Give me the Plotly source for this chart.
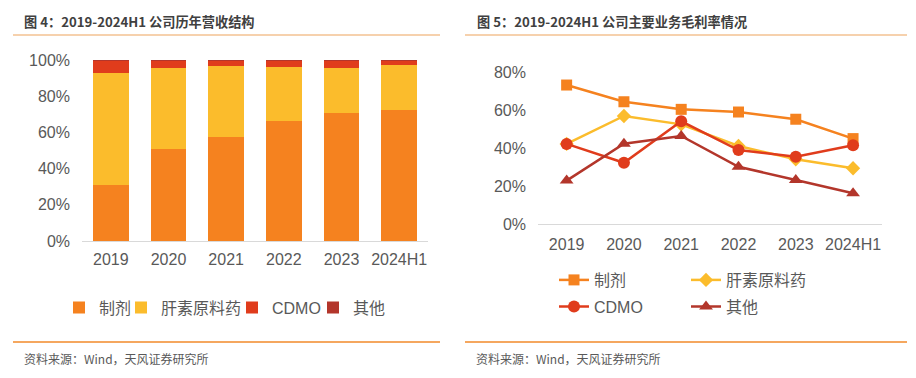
import plotly.graph_objects as go

W, H = 916, 378
OX, OY = 8, 8  # page body margin compensation

years = ["2019", "2020", "2021", "2022", "2023", "2024H1"]

# 图4：营收结构 (%)
rev_prep = [31.0, 50.7, 57.6, 66.1, 70.7, 72.2]
rev_heparin = [61.6, 44.7, 39.1, 30.2, 25.1, 24.9]
rev_cdmo = [7.1, 4.3, 3.0, 3.4, 3.9, 2.6]
rev_other = [0.3, 0.3, 0.3, 0.3, 0.3, 0.3]

# 图5：毛利率 (%)
gm_prep = [73.3, 64.5, 60.5, 59.1, 55.3, 45.1]
gm_heparin = [42.3, 57.0, 52.6, 41.2, 34.2, 29.5]
gm_cdmo = [42.3, 32.4, 54.2, 39.1, 35.6, 41.6]
gm_other = [23.0, 42.4, 46.5, 30.3, 23.3, 16.3]

names = ["制剂", "肝素原料药", "CDMO", "其他"]
colors = ["#F5821F", "#FBBC2C", "#E03C1C", "#B3362B"]

FONT = "Liberation Sans, Arial, Noto Sans CJK SC, sans-serif"
CJK = "Noto Sans CJK SC, Liberation Sans, sans-serif"
TXT = "#595959"


def px(x):
    return (x - OX) / W


def py(y):
    return 1 - (y - OY) / H


fig = go.Figure()

bar_legs = ["legend", "legend2", "legend3", "legend4"]
for vals, name, col, lg in zip([rev_prep, rev_heparin, rev_cdmo, rev_other], names, colors, bar_legs):
    fig.add_trace(go.Bar(x=years, y=vals, name=name, marker=dict(color=col, line=dict(width=0)),
                         xaxis="x", yaxis="y", legend=lg))

markers = ["square", "diamond", "circle", "triangle-up"]
msizes = [11, 11, 12, 12]
line_legs = ["legend5", "legend6", "legend7", "legend8"]
for vals, name, col, m, ms, lg in zip([gm_prep, gm_heparin, gm_cdmo, gm_other], names, colors, markers, msizes, line_legs):
    fig.add_trace(go.Scatter(x=years, y=vals, name=name, mode="lines+markers",
                             line=dict(color=col, width=2.5),
                             marker=dict(symbol=m, size=ms, color=col),
                             xaxis="x2", yaxis="y2", legend=lg, cliponaxis=False))

axis_font = dict(family=FONT, size=16, color=TXT)

common_x = dict(type="category", range=[-0.5, 5.5], showline=True, linecolor="#D9D9D9", linewidth=1,
                ticks="", showgrid=False, zeroline=False, tickfont=axis_font, automargin=False)
common_y = dict(dtick=20, ticksuffix="%", showgrid=False, zeroline=False, showline=False, ticks="",
                tickfont=axis_font, automargin=False, ticklabelstandoff=11)

layout = dict(
    template="none",
    width=W, height=H,
    margin=dict(l=0, r=0, t=0, b=0, pad=0),
    paper_bgcolor="white", plot_bgcolor="white",
    barmode="stack", bargap=0.38,
    font=dict(family=FONT, color=TXT),
    showlegend=True,
    xaxis=dict(domain=[px(82), px(428)], anchor="y", ticklabelstandoff=4, **common_x),
    yaxis=dict(domain=[py(241), py(60)], anchor="x", range=[0, 100], **common_y),
    xaxis2=dict(domain=[px(538), px(881.7)], anchor="y2", ticklabelstandoff=5, **common_x),
    yaxis2=dict(domain=[py(224.3), py(72.3)], anchor="x2", range=[0, 80], **common_y),
)

leg_font = dict(family=FONT, size=16, color=TXT)
# left legend items
bar_leg_x = [59, 121, 232, 313]
for lg, x0 in zip(bar_legs, bar_leg_x):
    layout[lg] = dict(orientation="h", x=px(x0), y=py(307.7), xanchor="left", yanchor="middle",
                      font=leg_font, itemwidth=30, bgcolor="rgba(0,0,0,0)")
line_leg_pos = [(554, 280), (686, 280), (554, 306.7), (686, 306.7)]
for lg, (x0, y0) in zip(line_legs, line_leg_pos):
    layout[lg] = dict(orientation="h", x=px(x0), y=py(y0), xanchor="left", yanchor="middle",
                      font=leg_font, itemwidth=30, bgcolor="rgba(0,0,0,0)")

fig.update_layout(**layout)

# Titles
fig.add_annotation(text="<b>图 4：2019-2024H1 公司历年营收结构</b>", x=px(22), y=py(22), xref="paper", yref="paper",
                   xanchor="left", yanchor="middle", showarrow=False,
                   font=dict(family=CJK, size=13.2, color="#404040"))
fig.add_annotation(text="<b>图 5：2019-2024H1 公司主要业务毛利率情况</b>", x=px(475), y=py(22), xref="paper", yref="paper",
                   xanchor="left", yanchor="middle", showarrow=False,
                   font=dict(family=CJK, size=13.2, color="#404040"))
# Sources
for x0 in [22, 474]:
    fig.add_annotation(text="资料来源：Wind，天风证券研究所", x=px(x0), y=py(358), xref="paper", yref="paper",
                       xanchor="left", yanchor="middle", showarrow=False,
                       font=dict(family=CJK, size=12, color=TXT))

# Divider lines
for (a, b) in [(13, 440), (465, 907)]:
    fig.add_shape(type="line", xref="paper", yref="paper", x0=px(a), x1=px(b), y0=py(35), y1=py(35),
                  line=dict(color="#EDA35C", width=1.2))
    fig.add_shape(type="line", xref="paper", yref="paper", x0=px(a), x1=px(b), y0=py(342), y1=py(342),
                  line=dict(color="#F28A2A", width=1.5))

fig.write_html("out.html")
